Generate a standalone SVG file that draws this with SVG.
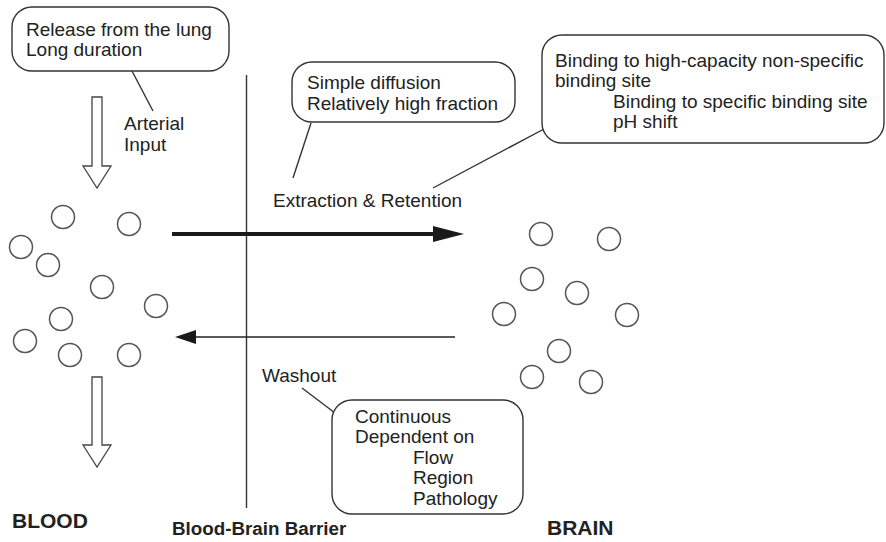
<svg xmlns="http://www.w3.org/2000/svg" width="886" height="542" viewBox="0 0 886 542">
<style>
  .box { fill: #fff; stroke: #333; stroke-width: 1.4; }
  .t { font-family: "Liberation Sans", Arial, sans-serif; font-size: 19px; fill: #222; }
  .b { font-family: "Liberation Sans", Arial, sans-serif; font-weight: bold; fill: #222; }
  .c { fill: none; stroke: #555; stroke-width: 1.5; }
  .ln { stroke: #333; stroke-width: 1.4; fill: none; }
  .hollow { fill: #fff; stroke: #444; stroke-width: 1.3; }
</style>
<rect width="886" height="542" fill="#fff"/>

<g id="connectors">
  <line class="ln" x1="246.5" y1="75" x2="246.5" y2="508"/>
  <line class="ln" x1="132" y1="71" x2="153" y2="111"/>
  <line class="ln" x1="311" y1="123" x2="293" y2="178"/>
  <line class="ln" x1="433" y1="188" x2="544" y2="129"/>
  <line class="ln" x1="302" y1="388" x2="335" y2="413"/>
  <line x1="172" y1="234" x2="436" y2="234" stroke="#1a1a1a" stroke-width="4"/>
  <polygon points="433,226 464,234 433,242" fill="#1a1a1a"/>
  <line x1="190" y1="337" x2="455" y2="337" stroke="#222" stroke-width="1.5"/>
  <polygon points="196,330 175,337 196,344" fill="#1a1a1a"/>
  <polygon class="hollow" points="92,97 102,97 102,166 111,166 97,188 83,166 92,166"/>
  <polygon class="hollow" points="92,377 102,377 102,445 111,445 97,467 83,445 92,445"/>
</g>

<g id="release">
  <rect class="box" x="12" y="7" width="217" height="64" rx="20"/>
  <text class="t" x="26" y="36">Release from the lung</text>
  <text class="t" x="26" y="56">Long duration</text>
</g>

<g id="arterial">
  <text class="t" x="124" y="130">Arterial</text>
  <text class="t" x="124" y="151">Input</text>
</g>

<g id="diffusion">
  <rect class="box" x="292" y="62" width="223" height="60" rx="20"/>
  <text class="t" x="307" y="89">Simple diffusion</text>
  <text class="t" x="307" y="110">Relatively high fraction</text>
</g>

<g id="extraction">
  <text class="t" x="273" y="207">Extraction &amp; Retention</text>
</g>

<g id="binding">
  <rect class="box" x="542" y="35" width="342" height="108" rx="20"/>
  <text class="t" x="555" y="67">Binding to high-capacity non-specific</text>
  <text class="t" x="555" y="87">binding site</text>
  <text class="t" x="613" y="108">Binding to specific binding site</text>
  <text class="t" x="613" y="128">pH shift</text>
</g>

<g id="washout">
  <text class="t" x="262" y="382">Washout</text>
</g>

<g id="continuous">
  <rect class="box" x="332" y="400" width="191" height="114" rx="20"/>
  <text class="t" x="355" y="423">Continuous</text>
  <text class="t" x="355" y="443">Dependent on</text>
  <text class="t" x="413" y="464">Flow</text>
  <text class="t" x="413" y="484">Region</text>
  <text class="t" x="413" y="505">Pathology</text>
</g>

<g id="blood-particles">
  <circle class="c" cx="63" cy="217" r="11.5"/>
  <circle class="c" cx="129" cy="224" r="11.5"/>
  <circle class="c" cx="21" cy="247" r="11.5"/>
  <circle class="c" cx="48" cy="265" r="11.5"/>
  <circle class="c" cx="102" cy="287" r="11.5"/>
  <circle class="c" cx="156" cy="306" r="11.5"/>
  <circle class="c" cx="61" cy="319" r="11.5"/>
  <circle class="c" cx="25" cy="341" r="11.5"/>
  <circle class="c" cx="70" cy="355" r="11.5"/>
  <circle class="c" cx="129" cy="355" r="11.5"/>
</g>

<g id="brain-particles">
  <circle class="c" cx="541" cy="234" r="11.5"/>
  <circle class="c" cx="609" cy="239" r="11.5"/>
  <circle class="c" cx="532" cy="279" r="11.5"/>
  <circle class="c" cx="577" cy="293" r="11.5"/>
  <circle class="c" cx="504" cy="314" r="11.5"/>
  <circle class="c" cx="627" cy="315" r="11.5"/>
  <circle class="c" cx="559" cy="351" r="11.5"/>
  <circle class="c" cx="532" cy="377" r="11.5"/>
  <circle class="c" cx="591" cy="382" r="11.5"/>
</g>

<g id="labels">
  <text class="b" x="12" y="528" font-size="21">BLOOD</text>
  <text class="b" x="172" y="535" font-size="18.8">Blood-Brain Barrier</text>
  <text class="b" x="547" y="535" font-size="21">BRAIN</text>
</g>
</svg>
